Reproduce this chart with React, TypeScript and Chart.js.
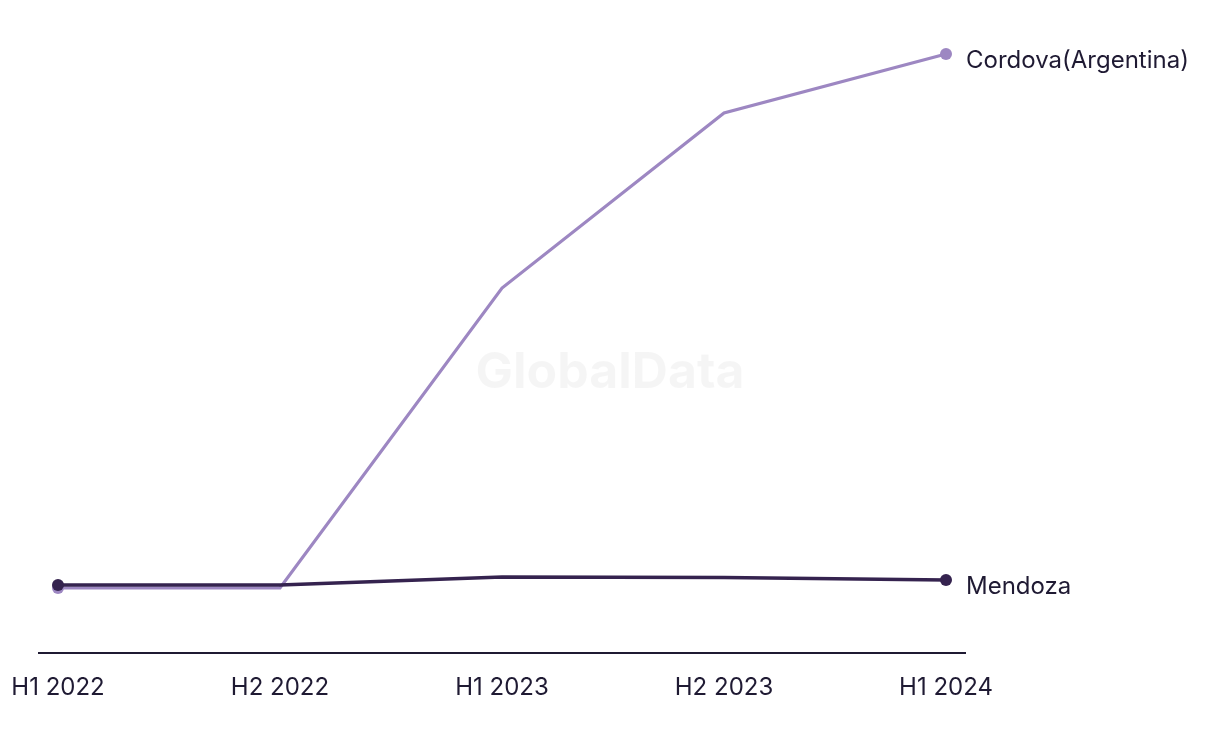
import React, { useEffect, useRef } from "react";
import { Chart, registerables } from "chart.js";

Chart.register(...registerables);

const categories = ["H1 2022", "H2 2022", "H1 2023", "H2 2023", "H1 2024"];
const cordova = [0.4, 0.4, 30.4, 47.9, 53.8];
const mendoza = [0.7, 0.7, 1.5, 1.45, 1.2];
const seriesNames = ["Cordova(Argentina)", "Mendoza"];

const FONT = "Inter, 'Noto Sans', sans-serif";
const TEXT = "#1f1a33";

const decorPlugin = {
  id: "decor",
  beforeDatasetsDraw(chart: any) {
    const { ctx, chartArea } = chart;
    ctx.save();
    ctx.font = `bold 50px ${FONT}`;
    ctx.fillStyle = "rgba(0,0,0,0.04)";
    ctx.textAlign = "center";
    ctx.textBaseline = "middle";
    ctx.fillText("GlobalData", 610, 373);
    ctx.strokeStyle = TEXT;
    ctx.lineWidth = 2;
    ctx.beginPath();
    ctx.moveTo(chartArea.left - 20, chartArea.bottom + 1);
    ctx.lineTo(chartArea.right + 20, chartArea.bottom + 1);
    ctx.stroke();
    ctx.restore();
  },
  afterDatasetsDraw(chart: any) {
    const { ctx } = chart;
    ctx.save();
    ctx.font = `24px ${FONT}`;
    ctx.fillStyle = TEXT;
    ctx.textAlign = "left";
    ctx.textBaseline = "middle";
    chart.data.datasets.forEach((ds: any, i: number) => {
      const meta = chart.getDatasetMeta(i);
      const pt = meta.data[meta.data.length - 1];
      ctx.fillText(ds.label, pt.x + 20, pt.y + 7);
    });
    ctx.restore();
  },
};

export default function App() {
  const ref = useRef<HTMLCanvasElement>(null);
  useEffect(() => {
    if (!ref.current) return;
    const radii = [6, 0, 0, 0, 6];
    const chart = new Chart(ref.current, {
      type: "line",
      data: {
        labels: categories,
        datasets: [
          {
            label: seriesNames[0],
            data: cordova,
            borderColor: "#9d87c2",
            backgroundColor: "#9d87c2",
            borderWidth: 3.2,
            pointRadius: radii,
            pointBorderWidth: 0,
            tension: 0,
            order: 1,
          },
          {
            label: seriesNames[1],
            data: mendoza,
            borderColor: "#35234f",
            backgroundColor: "#35234f",
            borderWidth: 3.5,
            pointRadius: radii,
            pointBorderWidth: 0,
            tension: 0,
            order: 0,
          },
        ],
      },
      options: {
        responsive: false,
        animation: false,
        layout: { padding: { left: 58, right: 274, top: 20, bottom: 0 } },
        plugins: { legend: { display: false }, tooltip: { enabled: false } },
        scales: {
          x: {
            offset: false,
            grid: { display: false, drawTicks: false },
            border: { display: false },
            afterFit(scale: any) {
              scale.height = 92;
              scale.paddingLeft = 0;
              scale.paddingRight = 0;
            },
            ticks: {
              padding: 21,
              color: TEXT,
              font: { family: FONT, size: 24 },
              maxRotation: 0,
              autoSkip: false,
            },
          },
          y: { display: false, min: -6, max: 57.2 },
        },
      },
      plugins: [decorPlugin],
    });
    return () => chart.destroy();
  }, []);
  return (
    <div style={{ position: "fixed", left: 0, top: 0, width: 1220, height: 744, background: "#fff" }}>
      <canvas ref={ref} width={1220} height={744} />
    </div>
  );
}
